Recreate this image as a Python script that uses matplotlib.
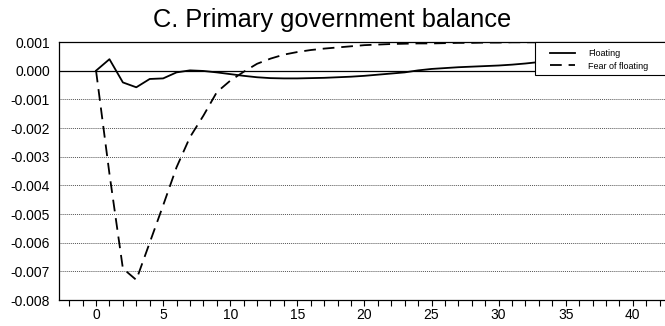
import matplotlib
matplotlib.use("Agg")
import matplotlib.pyplot as plt
from matplotlib.patches import Rectangle
from matplotlib.ticker import MultipleLocator, FormatStrFormatter

plt.rcParams['font.family'] = ['Liberation Sans', 'DejaVu Sans']

# impulse responses, quarters after the shock
periods = list(range(0, 41))
floating = [0.0, 0.0004, -0.00041, -0.00058, -0.00029, -0.00027, -0.00006, 0.00001, -0.00001,
            -0.00006, -0.00012, -0.00018, -0.00023, -0.00026, -0.00027, -0.00027, -0.00026,
            -0.00025, -0.00023, -0.00021, -0.00018, -0.00014, -0.0001, -0.00006, 0.00001,
            0.00006, 0.00009, 0.00012, 0.00014, 0.00016, 0.00018, 0.00021, 0.00025, 0.0003,
            0.00032, 0.00033, 0.00034, 0.00035, 0.00036, 0.00037, 0.00038]
fear = [0.0, -0.0036, -0.0069, -0.0073, -0.0060, -0.0047, -0.00337, -0.00232, -0.00157,
        -0.00075, -0.00035, -0.00004, 0.00024, 0.00042, 0.00056, 0.00065, 0.00072, 0.00077,
        0.00081, 0.00085, 0.00089, 0.00091, 0.00093, 0.00094, 0.00095, 0.00095, 0.00096,
        0.00097, 0.00097, 0.00098, 0.00098, 0.00099, 0.00099, 0.00099, 0.001, 0.001, 0.001,
        0.001, 0.001, 0.001, 0.001]

fig = plt.figure(figsize=(6.65, 3.26), dpi=100)
ax = fig.add_axes([59 / 665, 26 / 326, 606 / 665, 258 / 326])

for y in [-0.001, -0.002, -0.003, -0.004, -0.005, -0.006, -0.007]:
    ax.axhline(y, color='#555555', linestyle=(0, (1, 1)), linewidth=0.7, zorder=1)
ax.axhline(0, color='black', linewidth=0.9, zorder=1)

ax.plot(periods, floating, color='black', linewidth=1.3, label='Floating', zorder=3)
ax.plot(periods, fear, color='black', linewidth=1.3, linestyle=(0, (6.5, 3.8)),
        label='Fear of floating', zorder=3)

ax.set_xlim(-2.76, 42.4)
ax.set_ylim(-0.008, 0.001)
ax.xaxis.set_major_locator(MultipleLocator(5))
ax.xaxis.set_minor_locator(MultipleLocator(1))
ax.yaxis.set_major_locator(MultipleLocator(0.001))
ax.yaxis.set_major_formatter(FormatStrFormatter('%.3f'))
ax.tick_params(axis='x', which='both', direction='out', length=4, width=0.8, labelsize=10, pad=2)
ax.tick_params(axis='y', length=0, labelsize=10, pad=6.5)

ax.spines['right'].set_visible(False)
for s in ['left', 'top', 'bottom']:
    ax.spines[s].set_linewidth(0.9)

# legend box runs off the right edge, so draw the frame separately
box = Rectangle((0.7855, 0.872), 0.3, 0.128, transform=ax.transAxes, facecolor='white',
                edgecolor='black', linewidth=0.8, zorder=4, clip_on=False)
ax.add_patch(box)
leg = ax.legend(loc='upper left', bbox_to_anchor=(0.81, 0.973), fontsize=6.5, frameon=False,
                handlelength=2.8, handletextpad=1.45, borderpad=0, labelspacing=0.4,
                borderaxespad=0)
leg.set_zorder(5)

fig.text(0.5, 0.94, 'C. Primary government balance', ha='center', va='center', fontsize=18.3)

fig.savefig('out.png', dpi=100)
